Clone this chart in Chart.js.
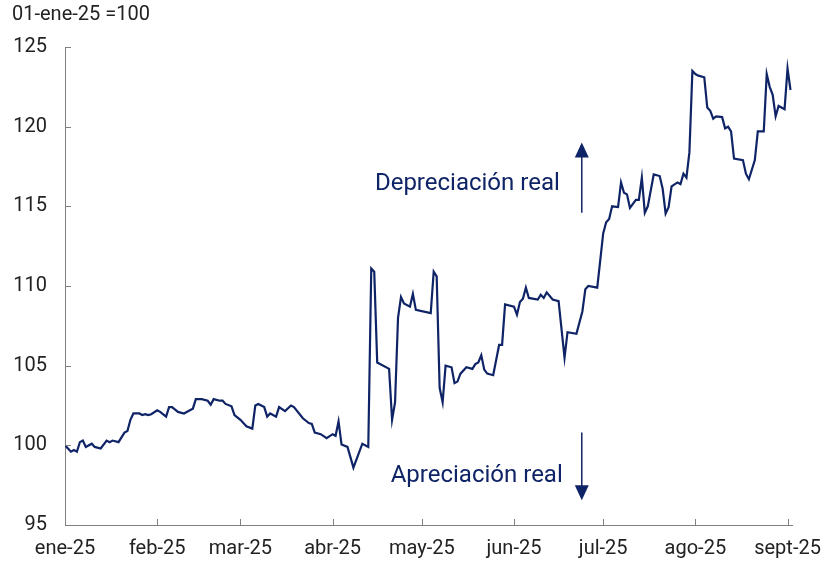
<!DOCTYPE html>
<html lang="es">
<head>
  <meta charset="UTF-8">
  <title>Tipo de cambio real</title>
  <script src="https://cdn.jsdelivr.net/npm/chart.js"></script>
  <style>
    body { margin: 0; background: #fff; }
    #wrap { width: 825px; height: 564px; }
  </style>
</head>
<body>
  <div id="wrap"><canvas id="tcr" width="825" height="564"></canvas></div>

  <script>
    // Índice 01-ene-25 = 100
    const fechas = [
      '2025-01-01','2025-01-02','2025-01-03','2025-01-04','2025-01-05','2025-01-06','2025-01-07','2025-01-08','2025-01-10','2025-01-11',
      '2025-01-13','2025-01-15','2025-01-16','2025-01-17','2025-01-19','2025-01-21','2025-01-22','2025-01-23','2025-01-24','2025-01-26',
      '2025-01-27','2025-01-28','2025-01-29','2025-01-30','2025-02-01','2025-02-02','2025-02-04','2025-02-05','2025-02-06','2025-02-08',
      '2025-02-10','2025-02-12','2025-02-13','2025-02-14','2025-02-16','2025-02-18','2025-02-19','2025-02-20','2025-02-22','2025-02-23',
      '2025-02-24','2025-02-26','2025-02-27','2025-03-01','2025-03-03','2025-03-05','2025-03-06','2025-03-07','2025-03-09','2025-03-10',
      '2025-03-11','2025-03-13','2025-03-14','2025-03-16','2025-03-18','2025-03-19','2025-03-22','2025-03-24','2025-03-25','2025-03-26',
      '2025-03-28','2025-03-30','2025-04-01','2025-04-02','2025-04-03','2025-04-04','2025-04-06','2025-04-08','2025-04-11','2025-04-13',
      '2025-04-14','2025-04-15','2025-04-16','2025-04-20','2025-04-21','2025-04-22','2025-04-23','2025-04-24','2025-04-25','2025-04-27',
      '2025-04-28','2025-04-29','2025-05-04','2025-05-05','2025-05-06','2025-05-07','2025-05-08','2025-05-09','2025-05-11','2025-05-12',
      '2025-05-13','2025-05-14','2025-05-16','2025-05-18','2025-05-19','2025-05-20','2025-05-21','2025-05-22','2025-05-23','2025-05-25',
      '2025-05-27','2025-05-28','2025-05-29','2025-06-01','2025-06-02','2025-06-03','2025-06-04','2025-06-05','2025-06-06','2025-06-09',
      '2025-06-10','2025-06-11','2025-06-12','2025-06-14','2025-06-16','2025-06-18','2025-06-19','2025-06-22','2025-06-24','2025-06-25',
      '2025-06-26','2025-06-29','2025-06-30','2025-07-01','2025-07-02','2025-07-03','2025-07-04','2025-07-06','2025-07-07','2025-07-08',
      '2025-07-09','2025-07-10','2025-07-12','2025-07-13','2025-07-14','2025-07-15','2025-07-16','2025-07-18','2025-07-20','2025-07-21',
      '2025-07-22','2025-07-23','2025-07-24','2025-07-26','2025-07-27','2025-07-28','2025-07-29','2025-07-30','2025-07-31','2025-08-01',
      '2025-08-02','2025-08-04','2025-08-05','2025-08-06','2025-08-07','2025-08-08','2025-08-10','2025-08-11','2025-08-12','2025-08-13',
      '2025-08-14','2025-08-17','2025-08-18','2025-08-19','2025-08-21','2025-08-22','2025-08-24','2025-08-25','2025-08-26','2025-08-27',
      '2025-08-28','2025-08-29','2025-08-31','2025-09-01','2025-09-02'
    ];
    const valores = [
      100.0, 99.8, 99.6, 99.7, 99.6, 100.2, 100.3, 99.9, 100.1, 99.9,
      99.8, 100.3, 100.2, 100.3, 100.2, 100.8, 100.9, 101.6, 102.0, 102.0,
      101.9, 101.95, 101.9, 101.95, 102.2, 102.1, 101.8, 102.4, 102.4, 102.1,
      102.0, 102.2, 102.3, 102.9, 102.9, 102.8, 102.55, 102.9, 102.8, 102.8,
      102.6, 102.45, 101.9, 101.6, 101.2, 101.05, 102.5, 102.6, 102.4, 101.8,
      102.0, 101.8, 102.4, 102.15, 102.5, 102.4, 101.7, 101.4, 101.35, 100.8,
      100.7, 100.45, 100.7, 100.6, 101.5, 100.05, 99.9, 98.6, 100.1, 99.9,
      111.1, 110.9, 105.2, 104.8, 101.6, 102.7, 108.0, 109.3, 108.9, 108.7,
      109.5, 108.5, 108.3, 110.9, 110.6, 103.6, 102.7, 105.0, 104.9, 103.9,
      104.0, 104.5, 104.9, 104.8, 105.1, 105.2, 105.65, 104.75, 104.5, 104.4,
      106.3, 106.3, 108.85, 108.7, 108.2, 109.0, 109.2, 109.9, 109.25, 109.15,
      109.45, 109.25, 109.6, 109.15, 109.05, 105.5, 107.1, 107.0, 108.4, 109.8,
      110.0, 109.9, 111.6, 113.3, 114.0, 114.2, 115.0, 114.95, 116.5, 115.85,
      115.75, 114.9, 115.4, 115.4, 116.8, 114.6, 115.0, 117.0, 116.9, 116.1,
      114.55, 114.95, 116.25, 116.5, 116.4, 117.05, 116.8, 118.4, 123.5, 123.3,
      123.2, 123.1, 121.2, 121.0, 120.5, 120.65, 120.6, 119.9, 120.0, 119.7,
      118.0, 117.9, 117.05, 116.7, 117.9, 119.7, 119.7, 123.3, 122.5, 122.0,
      120.65, 121.3, 121.1, 123.65, 122.3
    ];

    const iniciosMes = ['2025-01-01','2025-02-01','2025-03-01','2025-04-01','2025-05-01','2025-06-01','2025-07-01','2025-08-01','2025-09-01'];
    const etiquetasMes = ['ene-25','feb-25','mar-25','abr-25','may-25','jun-25','jul-25','ago-25','sept-25'];
    const ticksY = [95, 100, 105, 110, 115, 120, 125];
    const tituloEje = '01-ene-25 =100';

    const AZUL = '#0f2466';
    const GRIS = '#808080';
    const TEXTO = '#222222';

    Chart.defaults.font.family = 'Roboto, "Noto Sans", sans-serif';
    Chart.defaults.font.size = 20;
    Chart.defaults.color = TEXTO;

    const inicio = Date.parse('2025-01-01');
    const aDia = f => (Date.parse(f) - inicio) / 86400000;

    // flecha vertical con punta triangular
    function flecha(ctx, px, desde, hasta) {
      const dir = hasta < desde ? 1 : -1;
      ctx.beginPath();
      ctx.moveTo(px, desde);
      ctx.lineTo(px, hasta + dir * 12);
      ctx.stroke();
      ctx.beginPath();
      ctx.moveTo(px, hasta);
      ctx.lineTo(px - 7, hasta + dir * 15);
      ctx.lineTo(px + 7, hasta + dir * 15);
      ctx.closePath();
      ctx.fill();
    }

    const extras = {
      id: 'extras',
      afterDraw(chart) {
        const { ctx, chartArea, scales: { x, y } } = chart;
        ctx.save();

        // marcas de los ejes hacia adentro
        ctx.strokeStyle = GRIS;
        ctx.lineWidth = 1;
        x.ticks.forEach(t => {
          const px = Math.round(x.getPixelForValue(t.value)) + 0.5;
          ctx.beginPath();
          ctx.moveTo(px, chartArea.bottom);
          ctx.lineTo(px, chartArea.bottom - 6);
          ctx.stroke();
        });
        y.ticks.forEach(t => {
          const py = Math.round(y.getPixelForValue(t.value)) + 0.5;
          ctx.beginPath();
          ctx.moveTo(chartArea.left, py);
          ctx.lineTo(chartArea.left + 6, py);
          ctx.stroke();
        });

        // título del eje
        ctx.fillStyle = TEXTO;
        ctx.font = '20px Roboto, "Noto Sans", sans-serif';
        ctx.textAlign = 'left';
        ctx.textBaseline = 'middle';
        ctx.fillText(tituloEje, 12, 15);

        // anotaciones
        ctx.fillStyle = AZUL;
        ctx.strokeStyle = AZUL;
        ctx.lineWidth = 1.5;
        ctx.font = '24px Roboto, "Noto Sans", sans-serif';
        ctx.textAlign = 'right';
        ctx.fillText('Depreciación real', x.getPixelForValue(166.4), y.getPixelForValue(116.4));
        ctx.fillText('Apreciación real', x.getPixelForValue(167.4), y.getPixelForValue(98.1));

        const xf = x.getPixelForValue(173.8);
        flecha(ctx, xf, y.getPixelForValue(114.6), y.getPixelForValue(119.0));
        flecha(ctx, xf, y.getPixelForValue(100.8), y.getPixelForValue(96.55));

        ctx.restore();
      }
    };

    new Chart(document.getElementById('tcr'), {
      type: 'line',
      data: {
        datasets: [{
          data: fechas.map((f, i) => ({ x: aDia(f), y: valores[i] })),
          borderColor: AZUL,
          borderWidth: 2.2,
          pointRadius: 0,
          tension: 0,
          fill: false
        }]
      },
      options: {
        responsive: false,
        animation: false,
        layout: { padding: { left: 12, top: 47, right: 33, bottom: 2 } },
        plugins: {
          legend: { display: false },
          tooltip: { enabled: false }
        },
        scales: {
          x: {
            type: 'linear',
            min: 0,
            max: 244.5,
            afterBuildTicks: s => { s.ticks = iniciosMes.map(f => ({ value: aDia(f) })); },
            afterFit: s => { s.height = 37; s.paddingLeft = 0; s.paddingRight = 0; },
            ticks: {
              autoSkip: false,
              maxRotation: 0,
              padding: 12,
              callback: (v, i) => etiquetasMes[i]
            },
            grid: { display: false, drawTicks: false },
            border: { color: GRIS, width: 1 }
          },
          y: {
            min: 95,
            max: 125,
            afterBuildTicks: s => { s.ticks = ticksY.map(v => ({ value: v })); },
            afterFit: s => { s.width = 53; s.paddingTop = 0; s.paddingBottom = 0; },
            ticks: { padding: 18 },
            grid: { display: false, drawTicks: false },
            border: { color: GRIS, width: 1 }
          }
        }
      },
      plugins: [extras]
    });
  </script>
</body>
</html>
